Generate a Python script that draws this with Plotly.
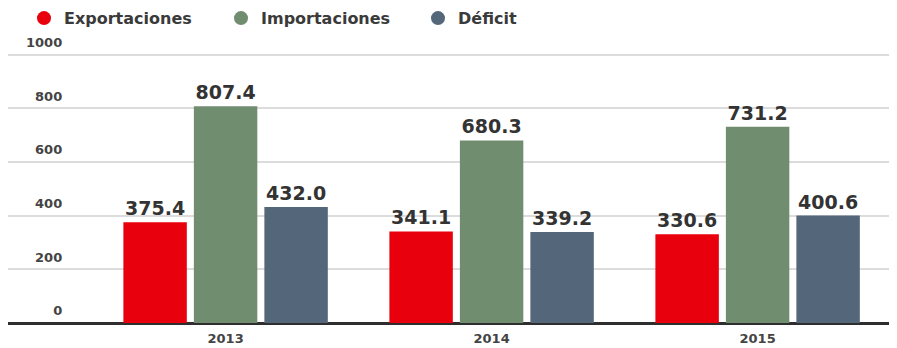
import plotly.graph_objects as go

years = ["2013", "2014", "2015"]
exportaciones = [375.4, 341.1, 330.6]
importaciones = [807.4, 680.3, 731.2]
deficit = [432.0, 339.2, 400.6]
series_names = ["Exportaciones", "Importaciones", "Déficit"]
colors = ["#e8000d", "#718d6f", "#54677a"]
y_ticks = [0, 200, 400, 600, 800, 1000]

FONT = "DejaVu Sans"
fig = go.Figure()
for name, vals, col in zip(series_names, [exportaciones, importaciones, deficit], colors):
    fig.add_trace(go.Bar(
        x=years, y=vals, name=name, showlegend=False,
        marker=dict(color=col, line=dict(width=0)),
        text=[f"{v:.1f}" for v in vals],
        textposition="outside",
        textfont=dict(family=FONT, size=19, color="#333333", weight="bold"),
        cliponaxis=False,
    ))
# legend entries with round markers
for name, col in zip(series_names, colors):
    fig.add_trace(go.Scatter(
        x=[None], y=[None], mode="markers", name=name,
        marker=dict(color=col, size=14, symbol="circle"),
    ))

# page body has an 8px margin, so the figure is 8px smaller than the window
fig.update_layout(
    width=889, height=340,
    margin=dict(l=0, r=0, t=44, b=25),
    paper_bgcolor="white", plot_bgcolor="white",
    barmode="group", bargap=0.205, bargroupgap=0.1,
    showlegend=True,
    legend=dict(orientation="h", x=0.018, y=0.97, xanchor="left", yanchor="middle",
                yref="container",
                font=dict(family=FONT, size=16, color="#3a3a3a", weight="bold"),
                traceorder="normal", entrywidth=152, entrywidthmode="pixels"),
    xaxis=dict(range=[-0.818, 2.524], showgrid=False, showline=False, zeroline=False,
               automargin=False, ticks="", ticklabelstandoff=6,
               tickfont=dict(family=FONT, size=13, color="#444444", weight="bold")),
    yaxis=dict(range=[0, 1010], tickvals=y_ticks, showgrid=True, gridcolor="#dcdcdc", gridwidth=1.5,
               zeroline=True, zerolinecolor="#2e2e2e", zerolinewidth=3,
               anchor="free", position=0.061, showline=False, ticks="", automargin=False,
               ticklabelposition="outside top", ticklabelshift=-3,
               tickfont=dict(family=FONT, size=13, color="#444444", weight="bold")),
)
fig.write_html("out.html")
